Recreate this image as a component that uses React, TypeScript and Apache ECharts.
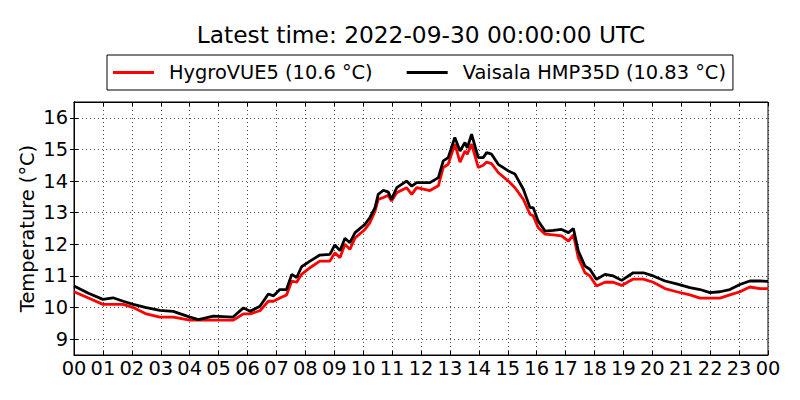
import React, { useEffect, useRef } from "react";
import * as echarts from "echarts";

const titleText = "Latest time: 2022-09-30 00:00:00 UTC";
const seriesNames = ["HygroVUE5 (10.6 °C)", "Vaisala HMP35D (10.83 °C)"];

const hours = [
  0, 0.5, 1.0, 1.35, 1.7, 2.05, 2.5, 2.97, 3.43, 4.01, 4.3, 4.82, 5.5, 5.86, 6.09, 6.43, 6.72, 6.9,
  7.12, 7.35, 7.53, 7.7, 7.87, 8.16, 8.5, 8.85, 9.02, 9.2, 9.37, 9.54, 9.72, 10.06, 10.23, 10.41,
  10.52, 10.7, 10.87, 10.98, 11.16, 11.5, 11.68, 11.85, 12.31, 12.6, 12.77, 12.94, 13.17, 13.35,
  13.52, 13.6, 13.75, 13.98, 14.15, 14.27, 14.44, 14.67, 15.02, 15.25, 15.54, 15.77, 15.88, 16.05,
  16.29, 16.57, 16.86, 17.1, 17.27, 17.44, 17.67, 17.84, 18.07, 18.36, 18.65, 18.94, 19.34, 19.69,
  20.03, 20.44, 20.84, 21.3, 21.65, 21.99, 22.34, 22.68, 23.03, 23.37, 23.72, 24.0,
];

const hygroVUE5 = [
  10.5, 10.3, 10.1, 10.1, 10.1, 10.0, 9.8, 9.7, 9.7, 9.6, 9.6, 9.6, 9.6, 9.8, 9.8, 9.9, 10.2, 10.2,
  10.3, 10.4, 10.84, 10.8, 11.05, 11.26, 11.47, 11.47, 11.73, 11.58, 12.0, 11.84, 12.2, 12.47, 12.68,
  13.05, 13.42, 13.48, 13.55, 13.37, 13.63, 13.79, 13.58, 13.79, 13.7, 13.85, 14.43, 14.53, 15.17,
  14.6, 14.95, 14.85, 15.17, 14.43, 14.5, 14.6, 14.55, 14.27, 14.0, 13.79, 13.42, 12.95, 12.9, 12.53,
  12.32, 12.3, 12.27, 12.1, 12.3, 11.58, 11.1, 11.0, 10.68, 10.8, 10.8, 10.7, 10.9, 10.9, 10.8, 10.6,
  10.5, 10.4, 10.3, 10.3, 10.3, 10.4, 10.5, 10.65, 10.6, 10.6,
];

const hmp35d = [
  10.68, 10.45, 10.26, 10.31, 10.2, 10.1, 10.0, 9.91, 9.88, 9.7, 9.62, 9.73, 9.7, 9.99, 9.88, 10.04,
  10.43, 10.37, 10.57, 10.57, 11.05, 10.95, 11.29, 11.47, 11.66, 11.68, 11.98, 11.8, 12.19, 12.05,
  12.37, 12.63, 12.84, 13.16, 13.58, 13.71, 13.65, 13.42, 13.79, 14.0, 13.84, 13.95, 13.95, 14.11,
  14.64, 14.74, 15.38, 14.95, 15.22, 15.05, 15.48, 14.74, 14.74, 14.9, 14.85, 14.53, 14.32, 14.22,
  13.74, 13.16, 13.16, 12.74, 12.42, 12.44, 12.47, 12.37, 12.5, 11.79, 11.31, 11.21, 10.89, 11.05,
  11.0, 10.86, 11.1, 11.1, 11.0, 10.84, 10.75, 10.63, 10.57, 10.47, 10.5, 10.57, 10.73, 10.84, 10.84,
  10.83,
];

const yTicks = [9, 10, 11, 12, 13, 14, 15, 16];

const FONT = "DejaVu Sans";

export default function App() {
  const ref = useRef<HTMLDivElement>(null);
  useEffect(() => {
    if (!ref.current) return;
    const chart = echarts.init(ref.current, undefined, { renderer: "svg" });
    const pairs = (vals: number[]) => hours.map((h, i) => [h, vals[i]]);
    const tickStyle = { inside: true, length: 4, lineStyle: { color: "#000", width: 1 } };
    chart.setOption({
      animation: false,
      backgroundColor: "#fff",
      textStyle: { fontFamily: FONT },
      title: {
        text: titleText,
        left: 416,
        top: 18,
        textAlign: "center",
        textStyle: { fontFamily: FONT, fontSize: 23.3, fontWeight: "normal", color: "#000" },
      },
      legend: {
        left: 107,
        top: 55,
        padding: [8, 7, 8, 6],
        itemGap: 34,
        itemWidth: 41,
        itemHeight: 3,
        icon: "rect",
        borderColor: "#000",
        borderWidth: 1,
        borderRadius: 0,
        textStyle: { fontFamily: FONT, fontSize: 19.4, color: "#000", padding: [0, 0, 0, 10] },
        data: seriesNames,
      },
      grid: {
        left: 74,
        right: 32,
        top: 102,
        bottom: 45,
        show: true,
        borderColor: "#000",
        borderWidth: 1,
        containLabel: false,
      },
      xAxis: [
        {
          type: "value",
          min: 0,
          max: 24,
          interval: 1,
          axisLine: { show: true, lineStyle: { color: "#000", width: 1 } },
          axisTick: tickStyle,
          axisLabel: {
            show: true,
            interval: 0,
            margin: 4,
            showMinLabel: true,
            showMaxLabel: true,
            hideOverlap: false,
            fontFamily: FONT,
            fontSize: 19.4,
            color: "#000",
            formatter: (v: number) => String(Math.round(v) % 24).padStart(2, "0"),
          },
          splitLine: { show: true, lineStyle: { color: "#222", width: 0.8, type: [1, 3] } },
        },
        {
          type: "value",
          position: "top",
          min: 0,
          max: 24,
          interval: 1,
          axisLine: { show: true, lineStyle: { color: "#000", width: 1 } },
          axisTick: tickStyle,
          axisLabel: { show: false },
          splitLine: { show: false },
        },
      ],
      yAxis: [
        {
          type: "value",
          min: 8.5,
          max: 16.5,
          name: "Temperature (°C)",
          nameLocation: "middle",
          nameGap: 37,
          nameMoveOverlap: false,
          nameTextStyle: { fontFamily: FONT, fontSize: 19.4, color: "#000" },
          axisLine: { show: true, lineStyle: { color: "#000", width: 1 } },
          axisTick: { ...tickStyle, customValues: yTicks },
          axisLabel: {
            customValues: yTicks,
            margin: 6,
            fontFamily: FONT,
            fontSize: 19.4,
            color: "#000",
          },
          splitLine: { show: true, lineStyle: { color: "#222", width: 0.8, type: [1, 3] } },
        },
        {
          type: "value",
          position: "right",
          min: 8.5,
          max: 16.5,
          axisLine: { show: true, lineStyle: { color: "#000", width: 1 } },
          axisTick: { ...tickStyle, customValues: yTicks },
          axisLabel: { show: false, customValues: yTicks },
          splitLine: { show: false },
        },
      ],
      series: [
        {
          name: seriesNames[0],
          type: "line",
          data: pairs(hygroVUE5),
          showSymbol: false,
          symbol: "none",
          lineStyle: { color: "#ff0000", width: 2.8 },
          itemStyle: { color: "#ff0000" },
        },
        {
          name: seriesNames[1],
          type: "line",
          data: pairs(hmp35d),
          showSymbol: false,
          symbol: "none",
          lineStyle: { color: "#000000", width: 2.8 },
          itemStyle: { color: "#000000" },
        },
      ],
    });
    return () => chart.dispose();
  }, []);
  return (
    <div
      ref={ref}
      style={{ position: "fixed", left: 0, top: 0, width: 800, height: 400, background: "#fff" }}
    />
  );
}
